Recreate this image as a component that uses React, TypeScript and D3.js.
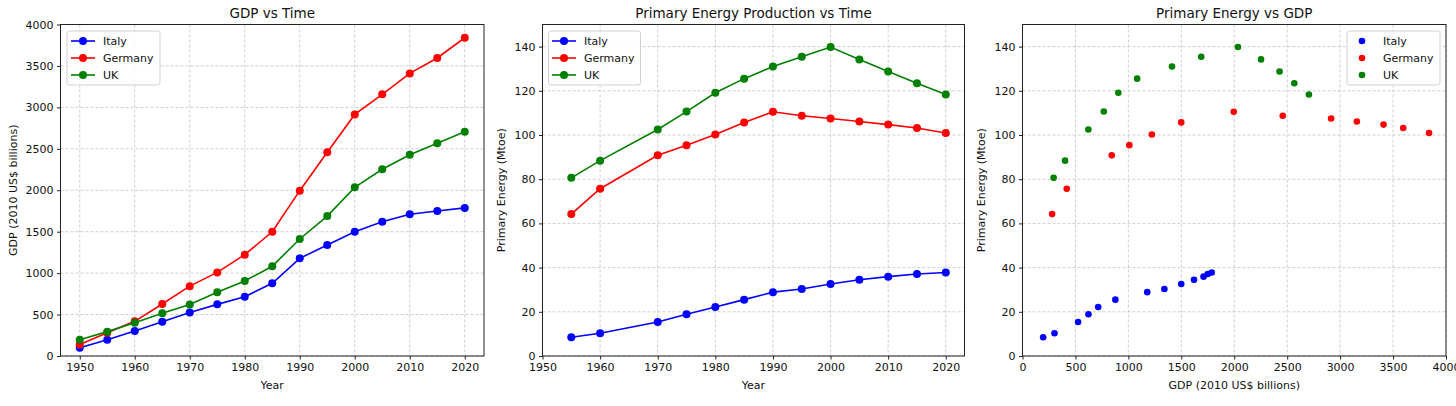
import React, { useEffect, useRef } from 'react';
import * as d3 from 'd3';

// GDP (2010 US$ billions), every 5 years
const gdpYears = [1950, 1955, 1960, 1965, 1970, 1975, 1980, 1985, 1990, 1995, 2000, 2005, 2010, 2015, 2020];
const italyGdp = [100, 195, 302, 414, 525, 623, 715, 877, 1178, 1340, 1499, 1620, 1710, 1750, 1787];
const germanyGdp = [140, 280, 418, 628, 843, 1009, 1222, 1499, 1995, 2458, 2915, 3158, 3410, 3596, 3840];
const ukGdp = [197, 294, 402, 515, 622, 768, 905, 1083, 1412, 1688, 2035, 2253, 2428, 2567, 2705];

// Primary energy production (Mtoe)
const energyYears = [1955, 1960, 1970, 1975, 1980, 1985, 1990, 1995, 2000, 2005, 2010, 2015, 2020];
const italyEnergy = [8.5, 10.3, 15.4, 18.9, 22.2, 25.5, 28.9, 30.3, 32.6, 34.5, 35.9, 37.1, 37.8];
const germanyEnergy = [64.2, 75.7, 90.8, 95.4, 100.2, 105.7, 110.5, 108.7, 107.5, 106.1, 104.7, 103.2, 100.9];
const ukEnergy = [80.6, 88.4, 102.5, 110.6, 119.1, 125.5, 131.0, 135.4, 139.8, 134.2, 128.7, 123.4, 118.3];

const countries = ['Italy', 'Germany', 'UK'];
const colors = ['#0000ff', '#ff0000', '#008000'];

const gdpTicks = [0, 500, 1000, 1500, 2000, 2500, 3000, 3500, 4000];
const energyTicks = [0, 20, 40, 60, 80, 100, 120, 140];
const yearTicks = [1950, 1960, 1970, 1980, 1990, 2000, 2010, 2020];

type Pt = { x: number; y: number };
type Series = { name: string; color: string; pts: Pt[] };

const FONT = 'DejaVu Sans, sans-serif';

function drawPanel(
  svg: d3.Selection<SVGSVGElement, unknown, null, undefined>,
  opts: {
    left: number; right: number; top: number; bottom: number;
    xDomain: [number, number]; yDomain: [number, number];
    xTicks: number[]; yTicks: number[];
    title: string; xLabel: string; yLabel: string; yLabelX: number;
    series: Series[]; lines: boolean;
    legend: { x: number; y: number; w: number; h: number; handleX: number; textX: number };
  }
) {
  const o = opts;
  const x = d3.scaleLinear().domain(o.xDomain).range([o.left, o.right]);
  const y = d3.scaleLinear().domain(o.yDomain).range([o.bottom, o.top]);
  const g = svg.append('g');

  // grid
  const grid = g.append('g').attr('stroke', '#b0b0b0').attr('stroke-width', 0.8)
    .attr('stroke-dasharray', '3,2').attr('opacity', 0.75);
  o.xTicks.forEach(t => {
    grid.append('line').attr('x1', x(t)).attr('x2', x(t)).attr('y1', o.top).attr('y2', o.bottom);
  });
  o.yTicks.forEach(t => {
    grid.append('line').attr('x1', o.left).attr('x2', o.right).attr('y1', y(t)).attr('y2', y(t));
  });

  // data
  o.series.forEach(s => {
    if (o.lines) {
      const line = d3.line<Pt>().x(d => x(d.x)).y(d => y(d.y));
      g.append('path').datum(s.pts).attr('fill', 'none').attr('stroke', s.color)
        .attr('stroke-width', 1.6).attr('d', line);
    }
    g.selectAll(null).data(s.pts).enter().append('circle')
      .attr('cx', d => x(d.x)).attr('cy', d => y(d.y))
      .attr('r', o.lines ? 4 : 3.3).attr('fill', s.color);
  });

  // spines
  g.append('rect').attr('x', o.left).attr('y', o.top)
    .attr('width', o.right - o.left).attr('height', o.bottom - o.top)
    .attr('fill', 'none').attr('stroke', '#222').attr('stroke-width', 1);

  // ticks
  const xa = g.append('g').attr('transform', `translate(0,${o.bottom})`)
    .call(d3.axisBottom(x).tickValues(o.xTicks).tickSize(3.5).tickPadding(3.5).tickFormat(d3.format('d')));
  const ya = g.append('g').attr('transform', `translate(${o.left},0)`)
    .call(d3.axisLeft(y).tickValues(o.yTicks).tickSize(3.5).tickPadding(3.5).tickFormat(d3.format('d')));
  [xa, ya].forEach(a => {
    a.select('.domain').remove();
    a.selectAll('line').attr('stroke', '#222');
    a.selectAll('text').attr('fill', '#111').style('font-family', FONT).style('font-size', '11px');
  });

  // title and labels
  g.append('text').attr('x', (o.left + o.right) / 2).attr('y', 18).attr('text-anchor', 'middle')
    .style('font-family', FONT).style('font-size', '13.5px').attr('fill', '#111').text(o.title);
  g.append('text').attr('x', (o.left + o.right) / 2).attr('y', 389).attr('text-anchor', 'middle')
    .style('font-family', FONT).style('font-size', '11px').attr('fill', '#111').text(o.xLabel);
  g.append('text').attr('transform', `translate(${o.yLabelX},${(o.top + o.bottom) / 2}) rotate(-90)`)
    .attr('text-anchor', 'middle').attr('dy', '0.35em')
    .style('font-family', FONT).style('font-size', '11px').attr('fill', '#111').text(o.yLabel);

  // legend
  const L = o.legend;
  const lg = g.append('g');
  lg.append('rect').attr('x', L.x).attr('y', L.y).attr('width', L.w).attr('height', L.h)
    .attr('rx', 2.5).attr('fill', 'white').attr('fill-opacity', 0.85)
    .attr('stroke', '#d0d0d0').attr('stroke-width', 1);
  o.series.forEach((s, i) => {
    const cy = L.y + 10 + i * 17;
    if (o.lines) {
      lg.append('line').attr('x1', L.handleX).attr('x2', L.handleX + 24).attr('y1', cy).attr('y2', cy)
        .attr('stroke', s.color).attr('stroke-width', 1.6);
      lg.append('circle').attr('cx', L.handleX + 12).attr('cy', cy).attr('r', 4).attr('fill', s.color);
    } else {
      lg.append('circle').attr('cx', L.handleX).attr('cy', cy).attr('r', 3.3).attr('fill', s.color);
    }
    lg.append('text').attr('x', L.textX).attr('y', cy).attr('dy', '0.35em')
      .style('font-family', FONT).style('font-size', '11px').attr('fill', '#111').text(s.name);
  });
}

export default function App() {
  const ref = useRef<SVGSVGElement>(null);

  useEffect(() => {
    if (!ref.current) return;
    const svg = d3.select(ref.current);
    svg.selectAll('*').remove();

    const gdpSets = [italyGdp, germanyGdp, ukGdp];
    const energySets = [italyEnergy, germanyEnergy, ukEnergy];

    const gdpSeries: Series[] = countries.map((c, i) => ({
      name: c, color: colors[i], pts: gdpYears.map((yr, j) => ({ x: yr, y: gdpSets[i][j] })),
    }));
    const energySeries: Series[] = countries.map((c, i) => ({
      name: c, color: colors[i], pts: energyYears.map((yr, j) => ({ x: yr, y: energySets[i][j] })),
    }));
    const scatterSeries: Series[] = countries.map((c, i) => ({
      name: c, color: colors[i],
      pts: energyYears.map((yr, j) => ({ x: gdpSets[i][gdpYears.indexOf(yr)], y: energySets[i][j] })),
    }));

    drawPanel(svg, {
      left: 60.5, right: 484, top: 24.5, bottom: 356,
      xDomain: [1946.5, 2023.5], yDomain: [0, 4000], xTicks: yearTicks, yTicks: gdpTicks,
      title: 'GDP vs Time', xLabel: 'Year', yLabel: 'GDP (2010 US$ billions)', yLabelX: 13,
      series: gdpSeries, lines: true,
      legend: { x: 67, y: 31, w: 93, h: 54, handleX: 71, textX: 103 },
    });
    drawPanel(svg, {
      left: 542.5, right: 964.5, top: 24.5, bottom: 356,
      xDomain: [1950, 2023.25], yDomain: [0, 150], xTicks: yearTicks, yTicks: energyTicks,
      title: 'Primary Energy Production vs Time', xLabel: 'Year', yLabel: 'Primary Energy (Mtoe)', yLabelX: 501,
      series: energySeries, lines: true,
      legend: { x: 548.5, y: 31, w: 92, h: 54, handleX: 552, textX: 584 },
    });
    drawPanel(svg, {
      left: 1022.5, right: 1446, top: 24.5, bottom: 356,
      xDomain: [0, 4000], yDomain: [0, 150], xTicks: gdpTicks, yTicks: energyTicks,
      title: 'Primary Energy vs GDP', xLabel: 'GDP (2010 US$ billions)', yLabel: 'Primary Energy (Mtoe)', yLabelX: 981,
      series: scatterSeries, lines: false,
      legend: { x: 1347, y: 31, w: 93, h: 54, handleX: 1362, textX: 1383 },
    });
  }, []);

  return (
    <div style={{ position: 'absolute', left: 0, top: 0 }}>
      <svg ref={ref} width={1456} height={406} style={{ display: 'block', background: 'white' }} />
    </div>
  );
}
